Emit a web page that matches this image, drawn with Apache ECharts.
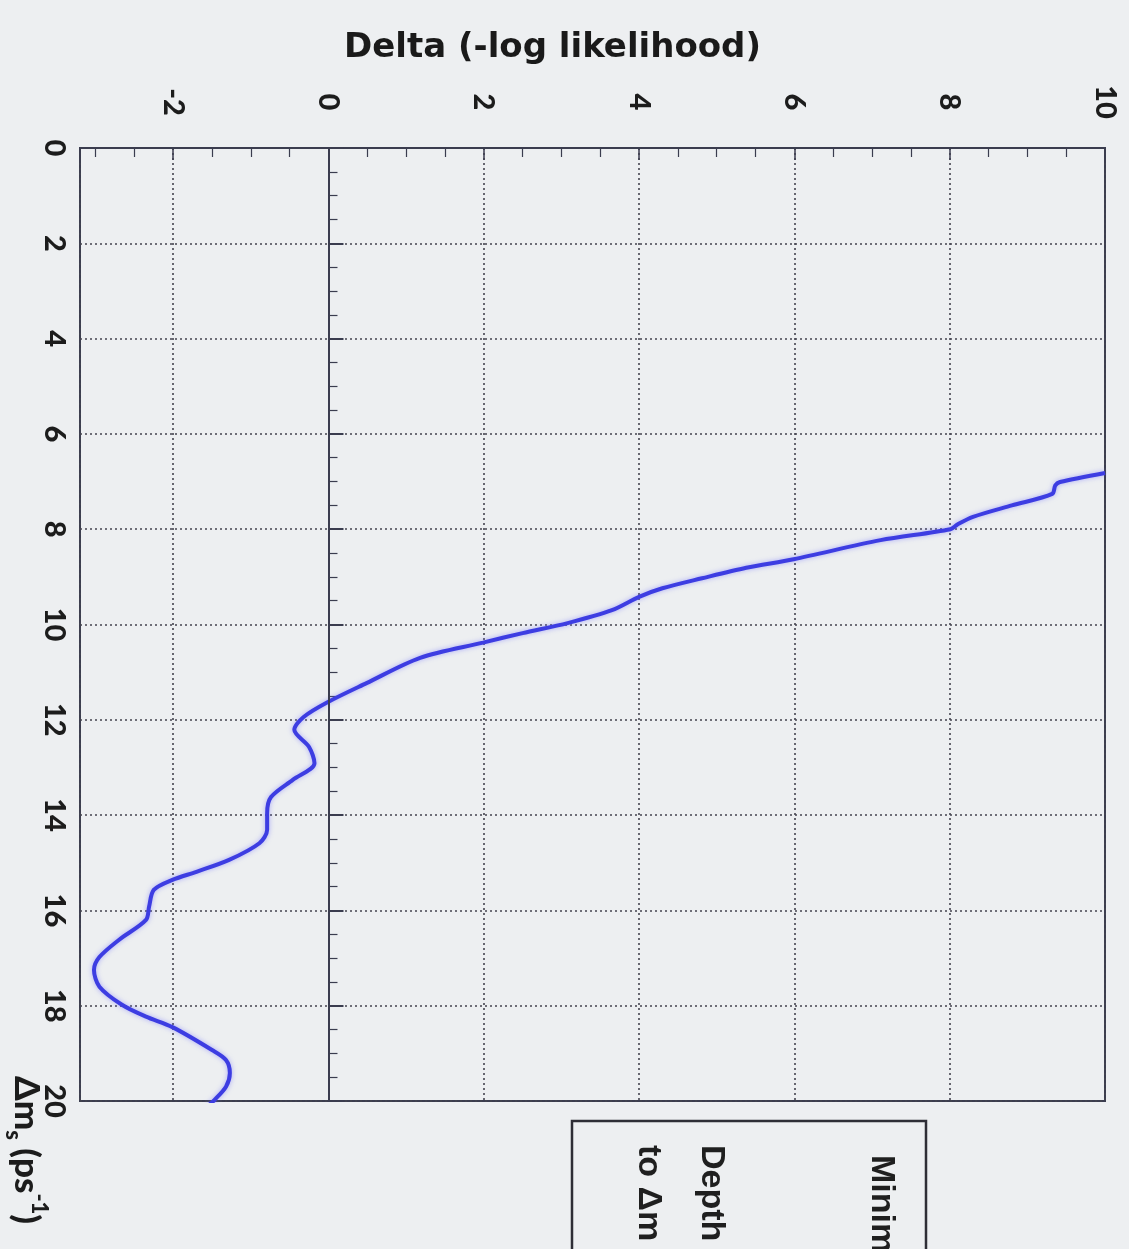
<!DOCTYPE html>
<html>
<head>
<meta charset="utf-8">
<script src="https://cdn.jsdelivr.net/npm/echarts@6/dist/echarts.min.js"></script>
<style>
  html, body { margin: 0; padding: 0; background: #edeff1; }
  #chart { width: 1129px; height: 1249px; }
</style>
</head>
<body>
<div id="chart"></div>
<script>
// Δm_s values (ps^-1) (vertical axis, 0 at top)
const deltaMs = [6.82, 7.01, 7.08, 7.26, 7.50, 7.74, 7.90, 8.00, 8.23, 8.63, 8.81, 9.03, 9.24, 9.42, 9.70, 9.97,
  10.18, 10.38, 10.70, 11.23, 11.62, 11.94, 12.21, 12.57, 12.91, 13.26, 13.62, 13.96, 14.31, 14.59, 14.94,
  15.19, 15.36, 15.57, 15.92, 16.20, 16.62, 16.98, 17.25, 17.60, 17.98, 18.23, 18.45, 18.93, 19.14, 19.41,
  19.70, 19.98, 20.10];
// Delta(-log likelihood) values at those Δm_s (horizontal axis)
const deltaLogL = [10.0, 9.42, 9.36, 9.32, 8.80, 8.30, 8.10, 8.01, 7.11, 5.99, 5.38, 4.81, 4.30, 4.00, 3.65, 3.08,
  2.50, 1.99, 1.18, 0.49, 0.00, -0.32, -0.44, -0.25, -0.18, -0.46, -0.74, -0.79, -0.79, -0.89, -1.28,
  -1.70, -2.01, -2.25, -2.31, -2.35, -2.70, -2.95, -3.02, -2.95, -2.66, -2.35, -2.01, -1.50, -1.32, -1.27,
  -1.32, -1.47, -1.55];

const valueAxisTitle = 'Delta (-log likelihood)';
const boxLines = ['Minimum', 'Depth', 'to Δm'];

const frame = '#3b3d4f';
const labelFont = { fontFamily: 'Lato', fontWeight: 900, fontSize: 29, color: '#1c1c1c' };
const chart = echarts.init(document.getElementById('chart'), null, { renderer: 'canvas' });

const option = {
  backgroundColor: '#edeff1',
  animation: false,
  grid: {
    left: 80, right: 24, top: 148, bottom: 148,
    show: true, borderColor: frame, borderWidth: 2, backgroundColor: 'transparent'
  },
  xAxis: {
    type: 'value', position: 'top', min: -3.2, max: 10, splitNumber: 6,
    name: valueAxisTitle, nameLocation: 'middle', nameGap: 83,
    nameTextStyle: { fontFamily: 'DejaVu Sans', fontWeight: 'bold', fontSize: 34, color: '#1a1a1a', padding: [0, 80, 0, 0] },
    axisLine: { show: true, lineStyle: { color: frame, width: 2 } },
    axisTick: { show: true, inside: true, length: 12, lineStyle: { color: frame, width: 1.5 } },
    minorTick: { show: true, splitNumber: 4, length: 9, lineStyle: { color: frame, width: 1.2 } },
    splitLine: { show: true, lineStyle: { color: '#44444f', width: 1.6, type: [2, 3] } },
    axisLabel: Object.assign({
      showMinLabel: false, showMaxLabel: true, rotate: -90, align: 'center', verticalAlign: 'middle',
      margin: 46
    }, labelFont)
  },
  yAxis: {
    type: 'value', position: 'left', inverse: true, min: 0, max: 20, interval: 2,
    axisLine: { show: true, lineStyle: { color: frame, width: 2 } },
    axisTick: { show: true, inside: true, length: 15, lineStyle: { color: frame, width: 2 } },
    minorTick: { show: true, splitNumber: 4, length: 9, lineStyle: { color: frame, width: 1.2 } },
    splitLine: { show: true, lineStyle: { color: '#44444f', width: 1.6, type: [2, 3] } },
    axisLabel: Object.assign({
      showMinLabel: true, showMaxLabel: true, rotate: -90, align: 'center', verticalAlign: 'middle',
      margin: 26
    }, labelFont)
  },
  series: [{
    type: 'line',
    data: deltaMs.map((m, i) => [deltaLogL[i], m]),
    showSymbol: false,
    smooth: 0.3,
    clip: true,
    lineStyle: { color: '#3d3de2', width: 4, shadowColor: 'rgba(110,110,255,0.55)', shadowBlur: 5 },
    markLine: {
      silent: true, symbol: 'none', label: { show: false },
      lineStyle: { color: frame, width: 2, type: 'solid' },
      data: [{ xAxis: 0 }]
    },
    z: 3
  }],
  graphic: [
    {
      type: 'text', x: 26, y: 1076, rotation: -Math.PI / 2,
      style: {
        text: '{a|Δm}{s|s}{a| (ps}{p|-1}{a|)}',
        textAlign: 'left', textVerticalAlign: 'middle',
        rich: {
          a: { fontFamily: 'Lato', fontWeight: 900, fontSize: 35, fill: '#1c1c1c', lineHeight: 48, verticalAlign: 'middle' },
          s: { fontFamily: 'Lato', fontWeight: 900, fontSize: 22, fill: '#1c1c1c', lineHeight: 48, verticalAlign: 'bottom' },
          p: { fontFamily: 'Lato', fontWeight: 900, fontSize: 22, fill: '#1c1c1c', lineHeight: 48, verticalAlign: 'top' }
        }
      }
    },
    {
      type: 'rect', shape: { x: 572, y: 1121, width: 354, height: 220 },
      style: { fill: 'none', stroke: '#2e2e36', lineWidth: 2.5 }
    },
    {
      type: 'text', x: 881, y: 1155, rotation: -Math.PI / 2,
      style: { text: boxLines[0], textAlign: 'left', textVerticalAlign: 'middle',
        fontFamily: 'Liberation Sans', fontWeight: 'bold', fontSize: 34, fill: '#1f1f1f' }
    },
    {
      type: 'text', x: 711, y: 1145, rotation: -Math.PI / 2,
      style: { text: boxLines[1], textAlign: 'left', textVerticalAlign: 'middle',
        fontFamily: 'Liberation Sans', fontWeight: 'bold', fontSize: 34, fill: '#1f1f1f' }
    },
    {
      type: 'text', x: 648, y: 1145, rotation: -Math.PI / 2,
      style: { text: boxLines[2], textAlign: 'left', textVerticalAlign: 'middle',
        fontFamily: 'Liberation Sans', fontWeight: 'bold', fontSize: 34, fill: '#1f1f1f' }
    }
  ]
};
chart.setOption(option);
</script>
</body>
</html>
